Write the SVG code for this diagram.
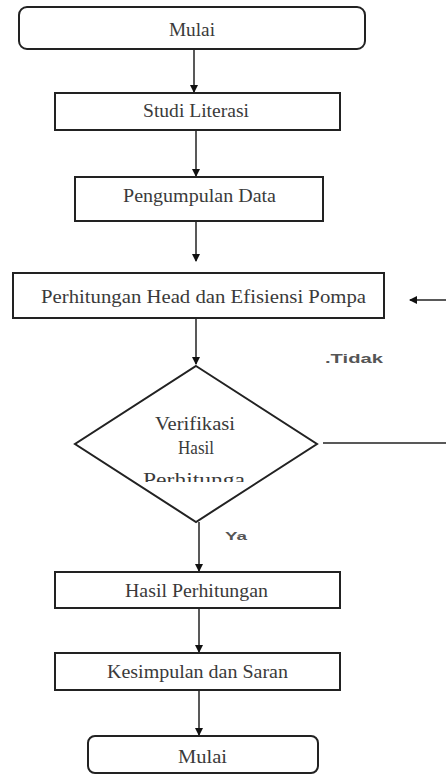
<svg xmlns="http://www.w3.org/2000/svg" width="446" height="775" viewBox="0 0 446 775">
<style>
.box{fill:#fff;stroke:#222;stroke-width:2}
.t{font-family:"Liberation Serif",serif;font-size:18.5px;fill:#3a3a3a;text-anchor:middle}
.s{font-family:"Liberation Sans",sans-serif;font-weight:bold;fill:#555}
.c{stroke:#222;stroke-width:1.5;fill:none}
</style>
<defs>
<marker id="ah" markerWidth="8" markerHeight="9" refX="7" refY="4.5" orient="auto" markerUnits="userSpaceOnUse">
<path d="M0,0.5 L8,4.5 L0,8.5 Z" fill="#111"/>
</marker>
<clipPath id="dc"><rect x="60" y="360" width="280" height="122"/></clipPath>
</defs>
<rect width="446" height="775" fill="#fff"/>
<g id="connectors">
<line class="c" x1="194" y1="49" x2="194" y2="92" marker-end="url(#ah)"/>
<line class="c" x1="196" y1="130" x2="196" y2="176" marker-end="url(#ah)"/>
<line class="c" x1="196" y1="221" x2="196" y2="261" marker-end="url(#ah)"/>
<line class="c" x1="196" y1="318" x2="196" y2="364" marker-end="url(#ah)"/>
<line class="c" x1="323" y1="443" x2="446" y2="443"/>
<line class="c" x1="446" y1="300" x2="410" y2="300" marker-end="url(#ah)"/>
<line class="c" x1="199" y1="522" x2="199" y2="571" marker-end="url(#ah)"/>
<line class="c" x1="199" y1="608" x2="199" y2="652" marker-end="url(#ah)"/>
<line class="c" x1="199" y1="690" x2="199" y2="735" marker-end="url(#ah)"/>
<text class="s" x="325" y="363" font-size="13" textLength="58" lengthAdjust="spacingAndGlyphs">.Tidak</text>
<text class="s" x="225" y="540" font-size="11" textLength="22" lengthAdjust="spacingAndGlyphs">Ya</text>
</g>
<g id="mulai-top">
<rect class="box" x="19" y="7" width="346" height="42" rx="8"/>
<text class="t" x="192" y="36" textLength="46" lengthAdjust="spacingAndGlyphs">Mulai</text>
</g>
<g id="studi">
<rect class="box" x="55" y="93" width="285" height="37"/>
<text class="t" x="196" y="117" textLength="106" lengthAdjust="spacingAndGlyphs">Studi Literasi</text>
</g>
<g id="pengumpulan">
<rect class="box" x="75" y="177" width="248" height="44"/>
<text class="t" x="199.5" y="202" textLength="153" lengthAdjust="spacingAndGlyphs">Pengumpulan Data</text>
</g>
<g id="perhitungan">
<rect class="box" x="13" y="273" width="371" height="45"/>
<text class="t" x="203.5" y="303" textLength="325" lengthAdjust="spacingAndGlyphs">Perhitungan Head dan Efisiensi Pompa</text>
</g>
<g id="verifikasi">
<polygon class="box" points="196,366 317,444 196,522 75,444"/>
<g clip-path="url(#dc)">
<text class="t" x="195" y="430" textLength="80" lengthAdjust="spacingAndGlyphs">Verifikasi</text>
<text class="t" x="196" y="454" textLength="36" lengthAdjust="spacingAndGlyphs">Hasil</text>
<text class="t" x="194" y="486" textLength="102" lengthAdjust="spacingAndGlyphs">Perhitunga</text>
</g>
</g>
<g id="hasil">
<rect class="box" x="55" y="572" width="285" height="36"/>
<text class="t" x="196.5" y="597" textLength="143" lengthAdjust="spacingAndGlyphs">Hasil Perhitungan</text>
</g>
<g id="kesimpulan">
<rect class="box" x="55" y="653" width="285" height="37"/>
<text class="t" x="197.5" y="678" textLength="181" lengthAdjust="spacingAndGlyphs">Kesimpulan dan Saran</text>
</g>
<g id="mulai-bottom">
<rect class="box" x="88" y="736" width="230" height="37" rx="7"/>
<text class="t" x="202.5" y="763" textLength="49" lengthAdjust="spacingAndGlyphs">Mulai</text>
</g>
</svg>
